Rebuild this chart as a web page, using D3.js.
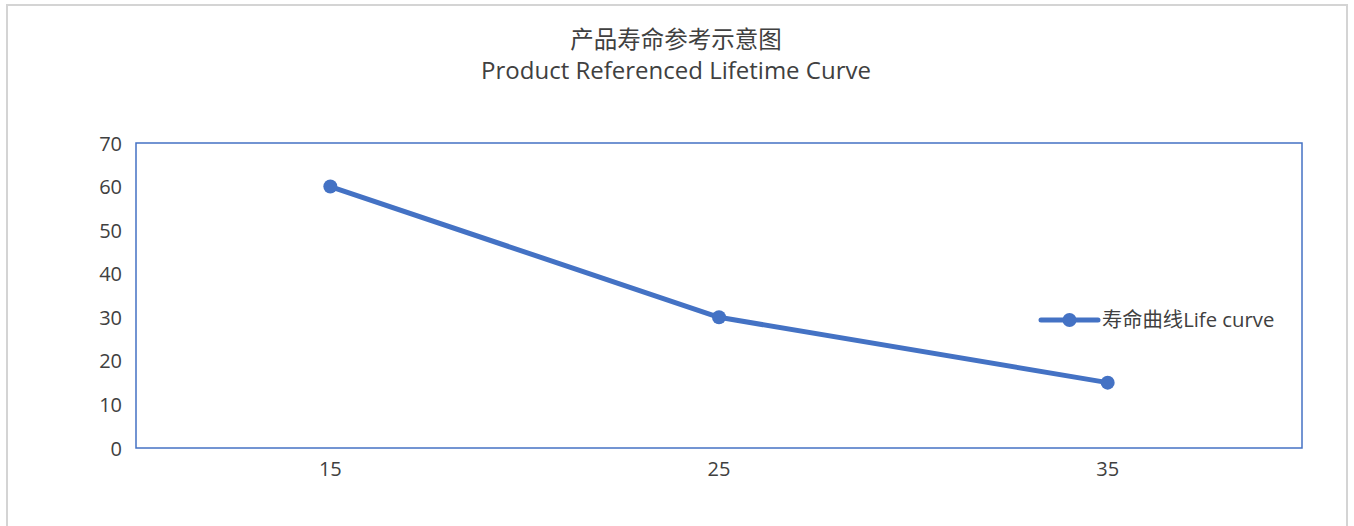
<!DOCTYPE html>
<html>
<head>
<meta charset="utf-8">
<script src="https://cdn.jsdelivr.net/npm/d3@7.9.0/dist/d3.min.js"></script>
<style>
  html, body { margin: 0; padding: 0; background: #fff; }
  svg text { font-family: "Open Sans", "Noto Sans CJK SC", sans-serif; fill: #404040; }
</style>
</head>
<body>
<div id="chart"></div>
<script>
// chart data
const categories = ['15', '25', '35'];
const lifeValues = [60, 30, 15];
const yTicks = [0, 10, 20, 30, 40, 50, 60, 70];
const titleLines = ['产品寿命参考示意图', 'Product Referenced Lifetime Curve'];
const seriesName = '寿命曲线Life curve';

const width = 1354, height = 526;
const plot = { left: 136, right: 1302, top: 143, bottom: 448 };
const blue = '#4472C4';

const svg = d3.select('#chart').append('svg')
  .attr('width', width).attr('height', height);

// outer frame
svg.append('rect')
  .attr('x', 7).attr('y', 5)
  .attr('width', 1340).attr('height', 540)
  .attr('fill', 'none').attr('stroke', '#d4d4d4').attr('stroke-width', 2);

// title, two lines
svg.append('g').selectAll('text')
  .data(titleLines)
  .join('text')
  .attr('x', 676)
  .attr('y', (d, i) => 48 + i * 31)
  .attr('text-anchor', 'middle')
  .style('font-size', (d, i) => i === 0 ? '23.5px' : '24px')
  .text(d => d);

// scales
const x = d3.scaleBand()
  .domain(categories)
  .range([plot.left, plot.right]);

const y = d3.scaleLinear()
  .domain([0, 70])
  .range([plot.bottom, plot.top]);

// plot border
svg.append('rect')
  .attr('x', plot.left).attr('y', plot.top)
  .attr('width', plot.right - plot.left).attr('height', plot.bottom - plot.top)
  .attr('fill', 'none').attr('stroke', blue).attr('stroke-width', 1.5);

// y axis
const yAxis = svg.append('g')
  .attr('transform', `translate(${plot.left},0)`)
  .call(d3.axisLeft(y).tickValues(yTicks).tickSize(0).tickPadding(14));
yAxis.select('.domain').remove();
yAxis.selectAll('text').style('font-size', '20px').attr('dy', '0.35em');

// x axis
const xAxis = svg.append('g')
  .attr('transform', `translate(0,${plot.bottom})`)
  .call(d3.axisBottom(x).tickSize(0).tickPadding(14));
xAxis.select('.domain').remove();
xAxis.selectAll('text').style('font-size', '20px');

// line + markers
const pts = categories.map((c, i) => [c, lifeValues[i]]);
const cx = d => x(d[0]) + x.bandwidth() / 2;

svg.append('path')
  .datum(pts)
  .attr('fill', 'none')
  .attr('stroke', blue)
  .attr('stroke-width', 5)
  .attr('stroke-linejoin', 'round')
  .attr('d', d3.line().x(cx).y(d => y(d[1])));

svg.append('g').selectAll('circle')
  .data(pts)
  .join('circle')
  .attr('cx', cx)
  .attr('cy', d => y(d[1]))
  .attr('r', 7)
  .attr('fill', blue);

// legend
const lg = svg.append('g').attr('transform', 'translate(1041,320)');
lg.append('line')
  .attr('x1', 0).attr('x2', 57)
  .attr('stroke', blue).attr('stroke-width', 5).attr('stroke-linecap', 'round');
lg.append('circle').attr('cx', 28.5).attr('r', 7).attr('fill', blue);
lg.append('text')
  .attr('x', 61).attr('dy', '0.35em')
  .style('font-size', '20.3px')
  .text(seriesName);
</script>
</body>
</html>
